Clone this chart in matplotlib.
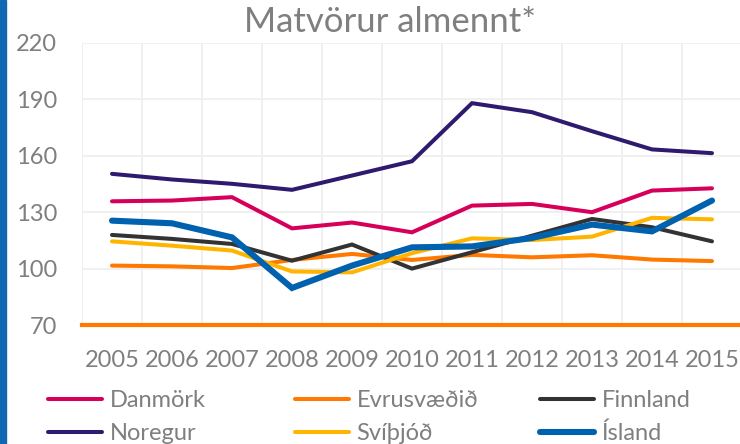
import matplotlib
matplotlib.use("Agg")
import matplotlib.pyplot as plt
from matplotlib.patches import Rectangle

years = ["2005", "2006", "2007", "2008", "2009", "2010", "2011", "2012", "2013", "2014", "2015"]
danmork = [135.8, 136.2, 138.0, 121.4, 124.5, 119.3, 133.5, 134.4, 130.0, 141.5, 142.7]
evrusvaedid = [101.6, 101.2, 100.3, 104.6, 107.8, 104.6, 107.3, 106.0, 107.1, 104.8, 104.0]
finnland = [117.9, 115.8, 113.1, 104.2, 112.8, 100.0, 108.7, 117.5, 126.4, 122.0, 114.5]
noregur = [150.4, 147.4, 145.1, 141.9, 149.5, 157.1, 188.0, 183.2, 173.1, 163.4, 161.4]
svithjod = [114.5, 112.2, 109.6, 98.5, 98.0, 108.2, 116.1, 115.2, 117.0, 127.0, 126.2]
island = [125.5, 124.1, 116.6, 89.7, 101.6, 111.3, 111.8, 116.3, 123.4, 119.8, 136.2]
yticks = [70, 100, 130, 160, 190, 220]

series = [
    ("Danmörk", danmork, "#D6005B", 2.9),
    ("Evrusvæðið", evrusvaedid, "#FF7800", 2.9),
    ("Finnland", finnland, "#333333", 2.9),
    ("Noregur", noregur, "#2E1A6E", 2.9),
    ("Svíþjóð", svithjod, "#FFB400", 2.9),
    ("Ísland", island, "#0062AE", 4.4),
]

FONT = "Lato"
GREY = "#7F7F7F"
plt.rcParams["font.family"] = [FONT, "DejaVu Sans"]
FS = 17

W, H = 740, 444
fig = plt.figure(figsize=(W / 100, H / 100), dpi=100)
ax = fig.add_axes([82 / W, (H - 325) / H, 660 / W, (325 - 43) / H])

x = list(range(len(years)))
handles = {}
for name, vals, col, lw in series:
    (ln,) = ax.plot(x, vals, color=col, lw=lw, solid_capstyle="round",
                    solid_joinstyle="miter", label=name, zorder=3)
    handles[name] = ln

ax.set_xlim(-0.5, len(years) - 0.5)
ax.set_ylim(70, 220)
ax.set_yticks(yticks)
ax.set_yticklabels([str(v) for v in yticks])
ax.set_xticks(x)
ax.set_xticklabels(years)
ax.set_xticks([i - 0.5 for i in range(len(years) + 1)], minor=True)
ax.grid(True, which="major", axis="y", color="#EFEFEF", lw=1.3, zorder=0)
ax.grid(True, which="minor", axis="x", color="#EFEFEF", lw=1.3, zorder=0)
ax.tick_params(axis="both", which="both", length=0, colors=GREY, labelsize=FS)
ax.tick_params(axis="y", pad=18)
ax.tick_params(axis="x", pad=18)
for s in ["top", "right", "left"]:
    ax.spines[s].set_visible(False)
ax.spines["bottom"].set_color("#FF7800")
ax.spines["bottom"].set_linewidth(3.0)
ax.spines["bottom"].set_zorder(4)

fig.text(390 / W, 1 - 32 / H, "Matvörur almennt*", ha="center", va="baseline",
         fontsize=25, color=GREY)

# left blue bar
fig.patches.append(Rectangle((0, 0), 6 / W, 1, transform=fig.transFigure,
                             color="#1167B1", zorder=0))

cols = [("Danmörk", "Noregur", 48), ("Evrusvæðið", "Svíþjóð", 295), ("Finnland", "Ísland", 540)]
for a, b, x0 in cols:
    fig.legend([handles[a], handles[b]], [a, b], loc="center left",
               bbox_to_anchor=(x0 / W, 1 - 417 / H),
               frameon=False, fontsize=FS, handlelength=2.3,
               handletextpad=0.3, labelspacing=0.5, borderpad=0,
               borderaxespad=0, labelcolor=GREY)

fig.savefig("out.png", dpi=100)
